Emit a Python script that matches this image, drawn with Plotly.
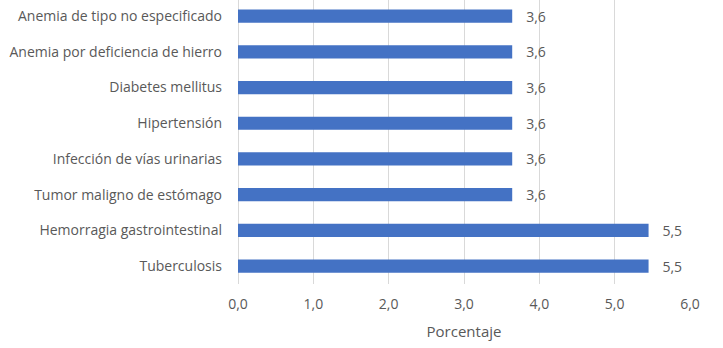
import plotly.graph_objects as go

categories = [
    "Anemia de tipo no especificado",
    "Anemia por deficiencia de hierro",
    "Diabetes mellitus",
    "Hipertensión",
    "Infección de vías urinarias",
    "Tumor maligno de estómago",
    "Hemorragia gastrointestinal",
    "Tuberculosis",
]
values = [3.64, 3.64, 3.64, 3.64, 3.64, 3.64, 5.45, 5.45]
tick_vals = [0, 1, 2, 3, 4, 5, 6]

font_family = "Open Sans, sans-serif"
gray = "#595959"

fig = go.Figure(go.Bar(
    y=categories,
    x=values,
    orientation="h",
    marker=dict(color="#4472C4", line=dict(width=0)),
    width=0.37,
    text=values,
    texttemplate="\u00a0\u00a0\u00a0%{x:.1f}",
    textposition="outside",
    constraintext="none",
    textfont=dict(color=gray, size=14, family=font_family),
    cliponaxis=False,
))

fig.update_layout(
    width=723, height=348,
    margin=dict(l=238, r=33, t=0, b=64, pad=0),
    paper_bgcolor="white", plot_bgcolor="white",
    separators=",.",
    showlegend=False,
    font=dict(family=font_family, color=gray, size=14),
)
fig.update_xaxes(
    range=[0, 6], tickvals=tick_vals, tickformat=".1f",
    showgrid=True, gridcolor="#d9d9d9", gridwidth=1,
    zeroline=True, zerolinecolor="#d9d9d9", zerolinewidth=1,
    showline=False, ticks="", ticklen=0,
    automargin=False,
    tickfont=dict(size=14, color=gray),
    title=dict(text="Porcentaje", font=dict(size=15, color=gray), standoff=14),
    ticklabelstandoff=10,
)
fig.update_yaxes(
    categoryorder="array", categoryarray=categories[::-1],
    range=[-0.5, 7.45], showgrid=False, showline=False, ticks="",
    automargin=False,
    ticklabelstandoff=15,
    tickfont=dict(size=14, color=gray),
)

fig.write_html("out.html", config={"displayModeBar": False},
               post_script="document.body.style.margin='0';")
